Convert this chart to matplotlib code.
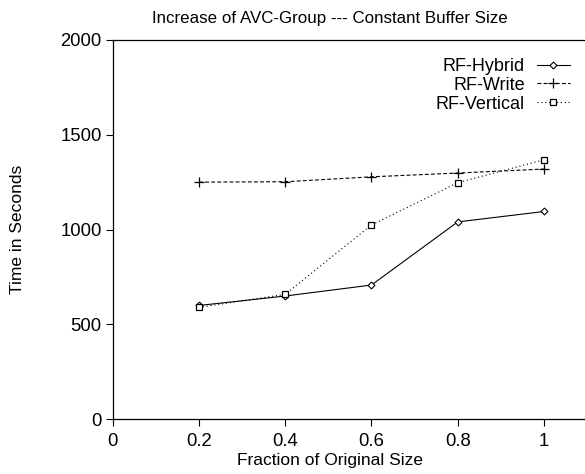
import matplotlib
matplotlib.use("Agg")
import matplotlib.pyplot as plt

plt.rcParams['font.family'] = ['Liberation Sans', 'DejaVu Sans']

# fraction of original size
fractions = [0.2, 0.4, 0.6, 0.8, 1.0]

# time in seconds per variant
rf_hybrid = [599, 649, 707, 1040, 1095]
rf_write = [1250, 1252, 1278, 1298, 1319]
rf_vertical = [589, 658, 1024, 1247, 1368]

x_ticks = [0, 0.2, 0.4, 0.6, 0.8, 1.0]
x_tick_labels = ['0', '0.2', '0.4', '0.6', '0.8', '1']
y_ticks = [0, 500, 1000, 1500, 2000]

W, H = 585, 474
fig = plt.figure(figsize=(W / 100, H / 100), dpi=100)
# axes box: left spine at 113px, bottom at 419px, top at 40px, right edge runs off the image
ax = fig.add_axes([112.7 / W, (H - 419) / H, 474.4 / W, 379 / H])

ax.plot(fractions, rf_hybrid, color='black', lw=0.8, ls='-',
        marker='D', ms=3.5, mfc='white', mec='black', mew=0.8, label='RF-Hybrid')
ax.plot(fractions, rf_write, color='black', lw=0.8, ls=(0, (3.5, 2)),
        marker='+', ms=7, mew=0.9, label='RF-Write')
ax.plot(fractions, rf_vertical, color='black', lw=0.8, ls=(0, (1, 2.5)),
        marker='s', ms=5, mfc='white', mec='black', mew=0.9, label='RF-Vertical')

ax.set_xlim(0, 1.1)
ax.set_ylim(0, 2000)
ax.set_xticks(x_ticks)
ax.set_xticklabels(x_tick_labels)
ax.set_yticks(y_ticks)
ax.tick_params(direction='out', length=5, width=0.8, labelsize=13.3)
ax.tick_params(axis='x', pad=5)
ax.tick_params(axis='y', pad=3)
for s in ax.spines.values():
    s.set_linewidth(0.9)

fig.text(330 / W, 1 - 19 / H, 'Increase of AVC-Group --- Constant Buffer Size',
         ha='center', va='center', fontsize=12.2)
fig.text(330 / W, 1 - 461 / H, 'Fraction of Original Size',
         ha='center', va='center', fontsize=12.5)
fig.text(18 / W, 1 - 229 / H, 'Time in Seconds', rotation=90,
         ha='center', va='center', fontsize=12.5)

ax.legend(loc='upper right', bbox_to_anchor=(570 / W, 1 - 58 / H),
          bbox_transform=fig.transFigure, frameon=False, markerfirst=False,
          fontsize=13, handlelength=1.85, handletextpad=0.65, labelspacing=0.1,
          borderpad=0, borderaxespad=0)

fig.savefig('out.png', dpi=100)
